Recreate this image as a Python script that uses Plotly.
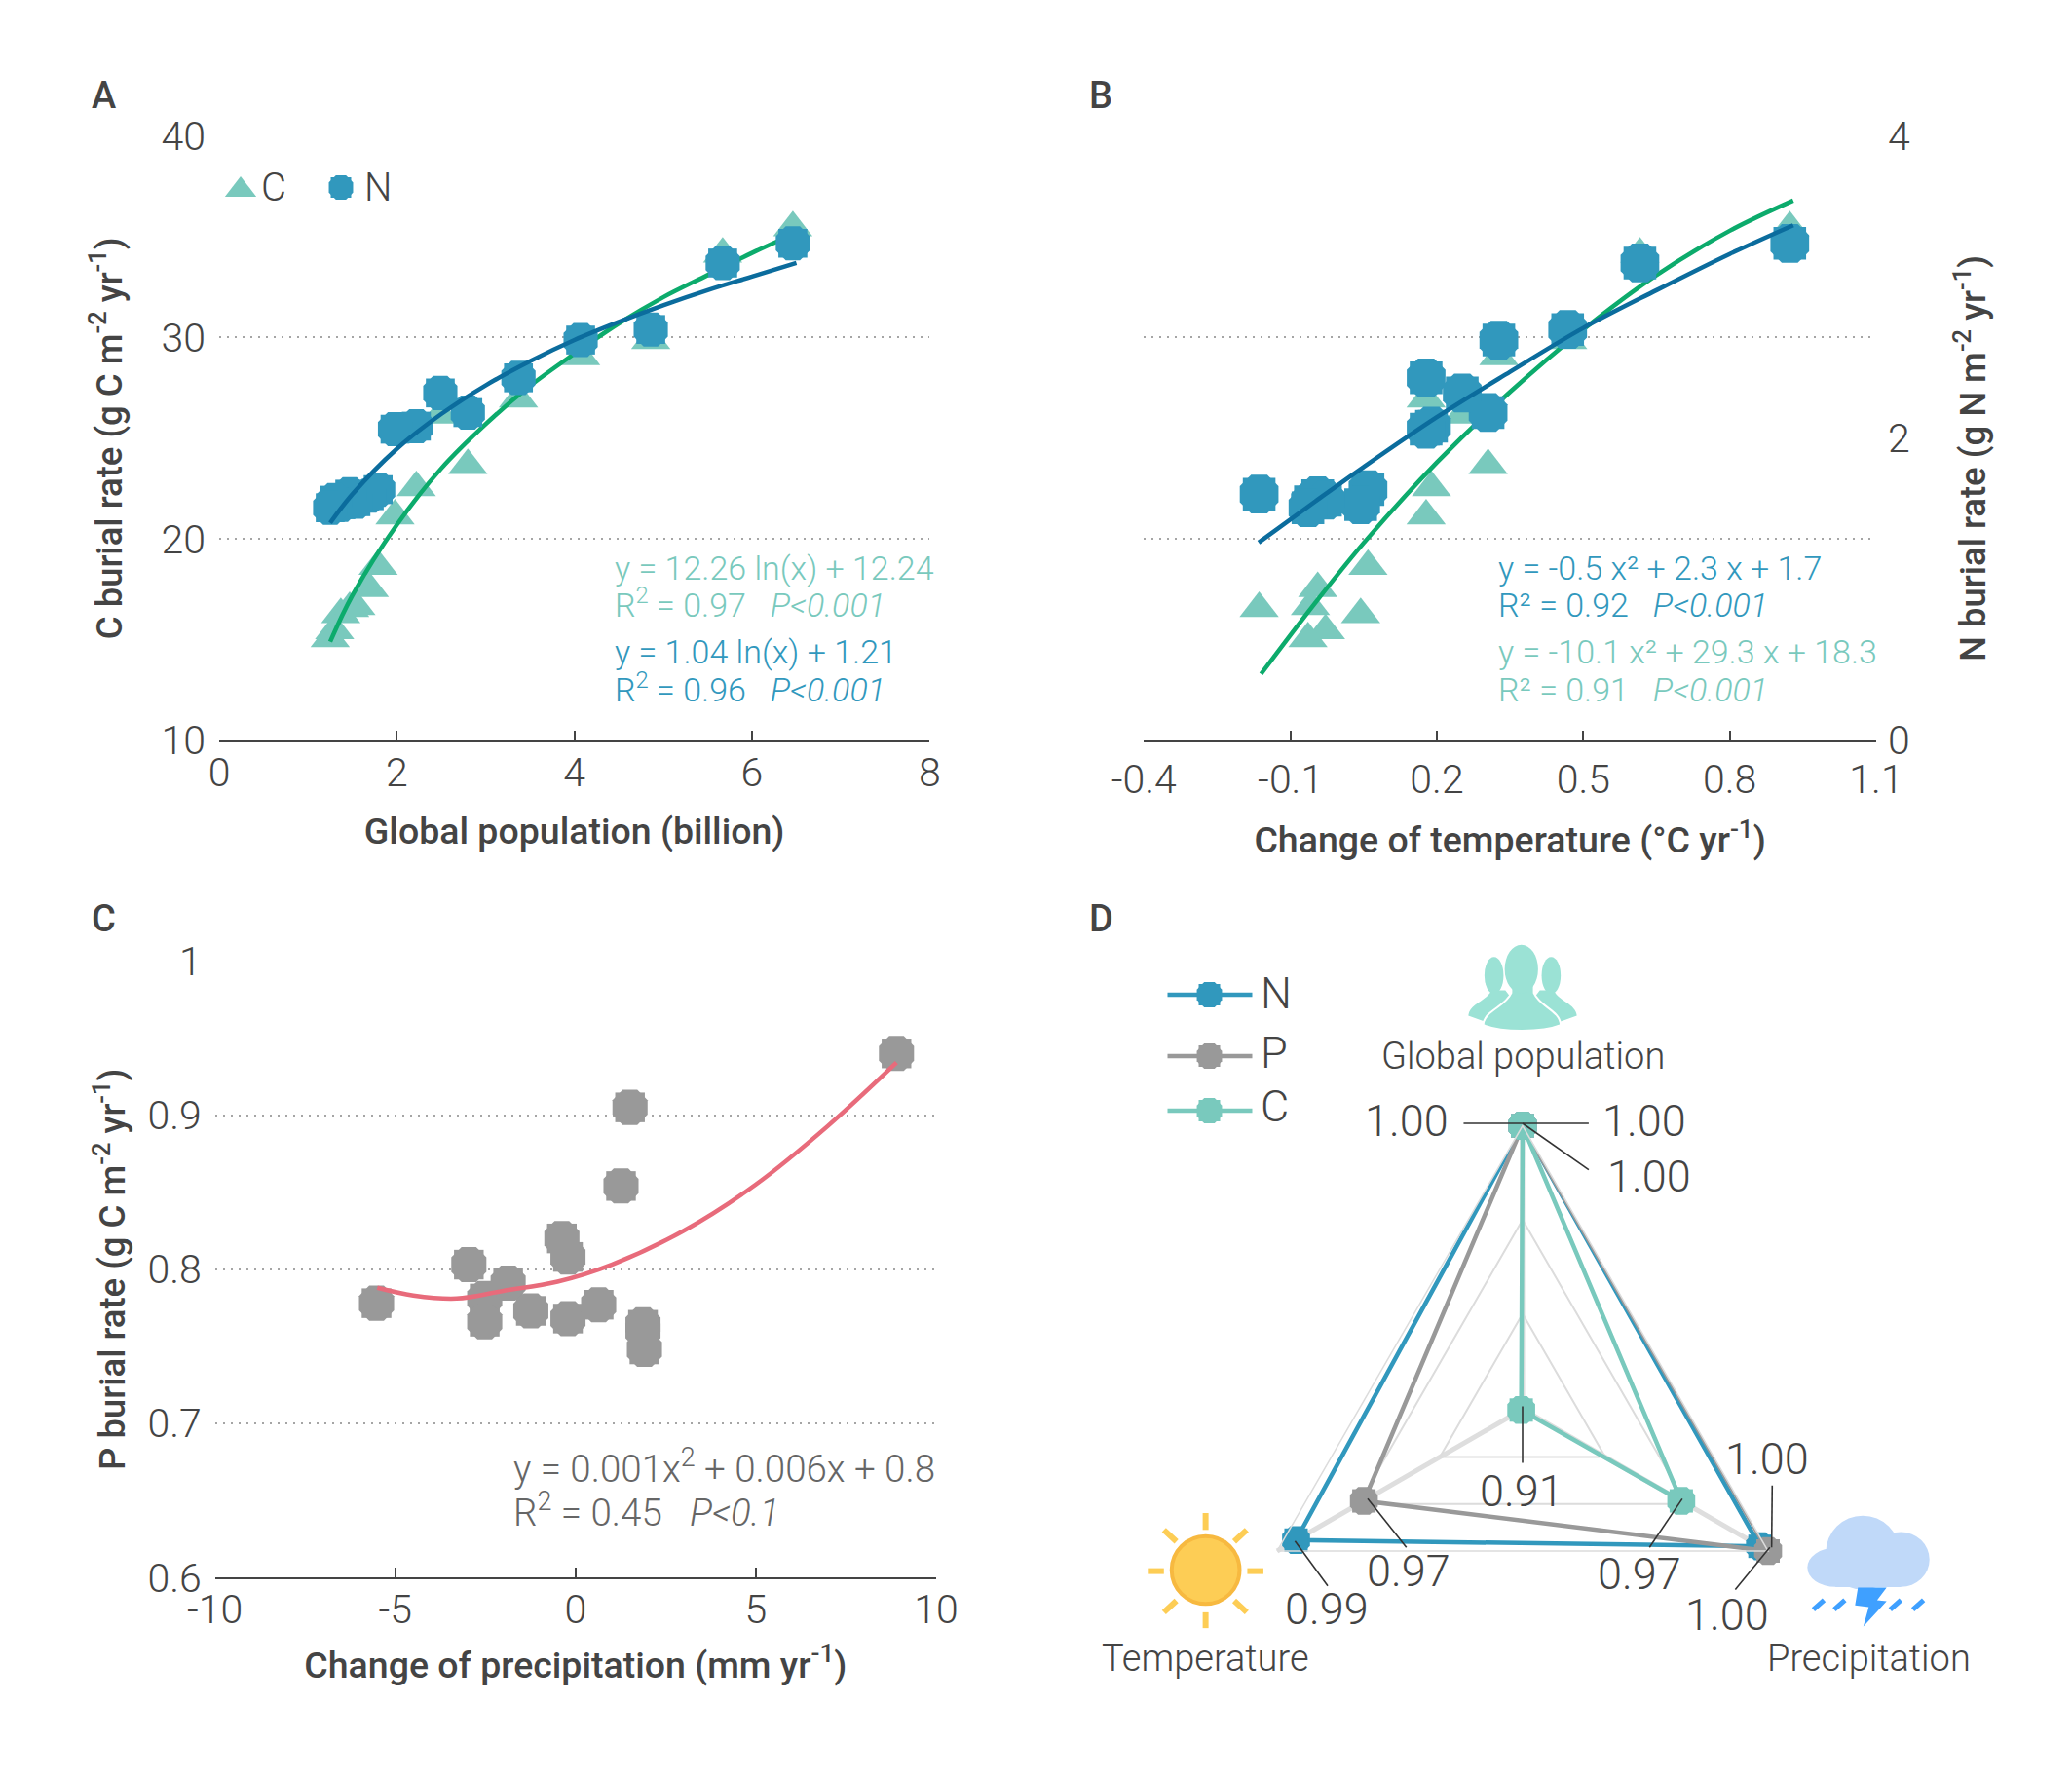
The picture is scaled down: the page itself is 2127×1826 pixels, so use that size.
import plotly.graph_objects as go

PAGE_W, PAGE_H = 2127, 1826
BODY = 8                      # the browser's default page margin
W, H = PAGE_W - BODY, PAGE_H - BODY

# ---- data ----
population = [6.46, 5.67, 4.86, 4.07, 3.37, 2.80, 2.49, 2.22, 1.98, 1.79, 1.69, 1.54, 1.47, 1.37, 1.30, 1.25]
temperature = [0.923, 0.616, 0.468, 0.327, 0.178, 0.305, 0.252, 0.189, 0.178, 0.059, -0.044, -0.059, -0.164, 0.044, -0.028, -0.064]
c_burial = [35.45, 34.15, 29.85, 29.05, 26.95, 23.65, 26.15, 22.55, 21.15, 18.65, 17.55, 16.65, 16.55, 16.25, 15.45, 15.05]
n_burial = [3.29, 3.16, 2.72, 2.65, 2.40, 2.17, 2.30, 2.08, 2.06, 1.66, 1.62, 1.58, 1.63, 1.56, 1.59, 1.54]

fit_pop_x = [1.25, 1.5, 2, 2.5, 3, 3.5, 4, 4.5, 5, 5.5, 6, 6.5]
fit_pop_c = [14.9, 17.2, 20.7, 23.5, 25.7, 27.6, 29.2, 30.7, 32.0, 33.1, 34.2, 35.2]
fit_pop_n = [1.44, 1.63, 1.93, 2.16, 2.35, 2.51, 2.65, 2.77, 2.88, 2.98, 3.07, 3.16]

fit_tmp_c_x = [-0.16, -0.05, 0.05, 0.2, 0.35, 0.5, 0.65, 0.8, 0.93]
fit_tmp_c = [13.3, 16.8, 19.8, 23.8, 27.3, 30.4, 33.1, 35.3, 36.8]
fit_tmp_n_x = [-0.165, -0.05, 0.05, 0.2, 0.35, 0.5, 0.65, 0.8, 0.93]
fit_tmp_n = [1.31, 1.58, 1.81, 2.14, 2.44, 2.73, 2.98, 3.22, 3.41]

precip = [-5.52, -2.96, -2.52, -2.52, -1.87, -1.24, -0.38, -0.21, -0.21, 0.64, 1.26, 1.51, 1.87, 1.87, 1.91, 8.9]
p_burial = [0.778, 0.803, 0.781, 0.766, 0.791, 0.773, 0.820, 0.808, 0.768, 0.777, 0.854, 0.905, 0.764, 0.760, 0.748, 0.940]
fit_pre_x = [-5.5, -4.5, -3.3, -2, -0.5, 1, 3, 5, 7, 8.9]
fit_pre_p = [0.788, 0.783, 0.781, 0.786, 0.792, 0.803, 0.825, 0.855, 0.893, 0.934]

radar_axes = ["Global population", "Temperature", "Precipitation", "Global population"]
radar_order = ["Global population", "Precipitation", "Temperature"]
radar_n = [1.00, 0.993, 0.997, 1.00]
radar_p = [1.00, 0.968, 1.00, 1.00]
radar_c = [1.00, 0.91, 0.968, 1.00]
radar_ticks = [0.94, 0.97, 1.00]

TEAL, BLUE, GRAY = "#79c9bd", "#3198bd", "#999999"
GREEN_FIT, BLUE_FIT, RED_FIT = "#0cab6c", "#0b6c9d", "#e86b7b"
INK, INK2 = "#444444", "#666666"
FONT = "Roboto"
TICK = 41
TITLE_X = 37.5
TITLE_Y = 36.5
DOT = "2px,6px"
GRID = "#a5a5a5"

def fx(a, b): return [(a - BODY) / W, (b - BODY) / W]
def fy(top, bottom): return [1 - (bottom - BODY) / H, 1 - (top - BODY) / H]

fig = go.Figure()

def triangles(x, y, xa, ya, name, size):
    fig.add_trace(go.Scatter(x=x, y=y, xaxis=xa, yaxis=ya, mode="markers", name=name, showlegend=False,
                             marker=dict(symbol="triangle-up", size=size, color=TEAL, line=dict(width=0))))

def rounded(x, y, xa, ya, name, size, col):
    # octagon plus a slightly smaller square reads as a rounded square
    for sym, s in [("square", size * 0.78), ("octagon", size)]:
        fig.add_trace(go.Scatter(x=x, y=y, xaxis=xa, yaxis=ya, mode="markers", name=name, showlegend=False,
                                 marker=dict(symbol=sym, size=s, color=col, line=dict(width=0))))

def curve(x, y, xa, ya, name, col):
    fig.add_trace(go.Scatter(x=x, y=y, xaxis=xa, yaxis=ya, mode="lines", name=name, showlegend=False,
                             line=dict(color=col, width=4.5, shape="spline", smoothing=1)))

# Panel A
triangles(population, c_burial, "x", "y", "C", 35)
rounded(population, n_burial, "x", "y2", "N", 38, BLUE)
curve(fit_pop_x, fit_pop_c, "x", "y", "C fit", GREEN_FIT)
curve(fit_pop_x, fit_pop_n, "x", "y2", "N fit", BLUE_FIT)
# Panel B
triangles(temperature, c_burial, "x2", "y3", "C", 35)
rounded(temperature, n_burial, "x2", "y4", "N", 43, BLUE)
curve(fit_tmp_c_x, fit_tmp_c, "x2", "y3", "C fit", GREEN_FIT)
curve(fit_tmp_n_x, fit_tmp_n, "x2", "y4", "N fit", BLUE_FIT)
# Panel C
rounded(precip, p_burial, "x3", "y5", "P", 39, GRAY)
curve(fit_pre_x, fit_pre_p, "x3", "y5", "P fit", RED_FIT)

# Panel D
for vals, col, nm in [(radar_n, BLUE, "N"), (radar_p, GRAY, "P"), (radar_c, TEAL, "C")]:
    fig.add_trace(go.Scatterpolar(r=vals, theta=radar_axes, mode="lines+markers", name=nm, showlegend=False,
                                  line=dict(color=col, width=4.5),
                                  marker=dict(symbol="octagon", size=31, color=col)))
    fig.add_trace(go.Scatterpolar(r=vals[:3], theta=radar_axes[:3], mode="markers", name=nm, showlegend=False,
                                  marker=dict(symbol="square", size=24, color=col)))

# key glyphs on a page-sized helper axis
def key(x, y, sym, size, col, name):
    fig.add_trace(go.Scatter(x=x, y=y, xaxis="x4", yaxis="y6", mode="markers",
                             name=name, showlegend=False, hoverinfo="skip",
                             marker=dict(symbol=sym, size=size, color=col)))

key([247], [195], "triangle-up", 28, TEAL, "key C")
key([350], [192.5], "octagon", 27, BLUE, "key N")
key([350], [192.5], "square", 21, BLUE, "key N")
for yy, col, nm in [(1021, BLUE, "key N"), (1084, GRAY, "key P"), (1140, TEAL, "key C")]:
    fig.add_trace(go.Scatter(x=[1198.5, 1285.5], y=[yy, yy], xaxis="x4", yaxis="y6", mode="lines", showlegend=False,
                             name=nm, hoverinfo="skip", line=dict(color=col, width=4.5)))
    key([1241.5], [yy], "octagon", 28, col, nm)
    key([1241.5], [yy], "square", 22, col, nm)

# ---- axes ----
def xaxis(dom, anchor, rng, tickvals, ticktext, title, label_off, title_so):
    return dict(domain=dom, anchor=anchor, range=rng, tickmode="array", tickvals=tickvals, ticktext=ticktext,
                ticks="inside", ticklen=10, tickwidth=2, tickcolor=INK, showline=True, linecolor=INK, linewidth=2,
                showgrid=False, zeroline=False, ticklabelstandoff=label_off, automargin=False,
                tickfont=dict(family=FONT, size=TICK, color=INK, weight=300),
                title=dict(text=title, standoff=title_so, font=dict(family=FONT, size=TITLE_X, color=INK, weight=500)))

def yaxis(dom, anchor, rng, tickvals, ticktext, title, title_so):
    return dict(domain=dom, anchor=anchor, range=rng, tickmode="array", tickvals=tickvals, ticktext=ticktext,
                ticks="", showline=False, showgrid=True, gridcolor=GRID, gridwidth=2, griddash=DOT,
                zeroline=False, ticklabelstandoff=13, automargin=False,
                tickfont=dict(family=FONT, size=TICK, color=INK, weight=300),
                title=dict(text=title, standoff=title_so, font=dict(family=FONT, size=TITLE_Y, color=INK, weight=500)))

AT, AB = 139.7, 760
layout = dict(
    width=W, height=H, paper_bgcolor="white", plot_bgcolor="rgba(0,0,0,0)",
    margin=dict(l=0, r=0, t=0, b=0, autoexpand=False), autosize=False, font=dict(family=FONT, color=INK),
    xaxis=xaxis(fx(225, 954.3), "y", [0, 8], [0, 2, 4, 6, 8], ["0", "2", "4", "6", "8"],
                "Global population (billion)", -4, 24),
    xaxis2=xaxis(fx(1174.3, 1926), "y3", [-0.4, 1.1], [-0.4, -0.1, 0.2, 0.5, 0.8, 1.1],
                 ["-0.4", "-0.1", "0.2", "0.5", "0.8", "1.1"],
                 "Change of temperature (°C yr<sup>-1</sup>)", 3, 26),
    xaxis3=xaxis(fx(220.7, 961), "y5", [-10, 10], [-10, -5, 0, 5, 10], ["-10", "-5", "0", "5", "10"],
                 "Change of precipitation (mm yr<sup>-1</sup>)", -5, 21),
    yaxis=yaxis(fy(AT, AB), "x", [10, 40], [10, 20, 30, 40], ["10", "20", "30", "40"],
                "C burial rate (g C m<sup>-2</sup> yr<sup>-1</sup>)", 28.5),
    yaxis2=dict(domain=fy(AT, AB), range=[0, 4], overlaying="y", anchor="x", visible=False),
    yaxis3=dict(domain=fy(AT, AB), anchor="x2", range=[10, 40], tickmode="array", tickvals=[20, 30, 40],
                showticklabels=False, ticks="", showline=False, showgrid=True, gridcolor=GRID, gridwidth=2,
                griddash=DOT, zeroline=False),
    yaxis4=dict(domain=fy(AT, AB), range=[0, 4], overlaying="y3", anchor="x2", side="right",
                tickmode="array", tickvals=[0, 2, 4], ticktext=["0", "2", "4"], showgrid=False, zeroline=False,
                showline=False, ticks="", ticklabelstandoff=11, automargin=False,
                tickfont=dict(family=FONT, size=TICK, color=INK, weight=300)),
    yaxis5=yaxis(fy(986.3, 1619.3), "x3", [0.6, 1.0], [0.6, 0.7, 0.8, 0.9, 1.0], ["0.6", "0.7", "0.8", "0.9", "1"],
                 "P burial rate (g C m<sup>-2</sup> yr<sup>-1</sup>)", 11),
    xaxis4=dict(domain=[0, 1], range=[BODY, PAGE_W], visible=False, anchor="y6"),
    yaxis6=dict(domain=[0, 1], range=[PAGE_H, BODY], visible=False, anchor="x4"),
    polar=dict(
        domain=dict(x=fx(1563 - 291, 1563 + 291), y=fy(1446.5 - 291, 1446.5 + 291)),
        bgcolor="rgba(0,0,0,0)", gridshape="linear",
        radialaxis=dict(range=[0.9095, 1.0], tickmode="array", tickvals=radar_ticks, showticklabels=False, ticks="",
                        showline=False, gridcolor="#dcdcdc", gridwidth=1.5, angle=90),
        angularaxis=dict(type="category", categoryorder="array", categoryarray=radar_order, rotation=90,
                         direction="clockwise", showticklabels=False, ticks="", showline=True,
                         linecolor="#dcdcdc", linewidth=1.5, gridcolor="#dedede", gridwidth=5),
    ),
)

# ---- annotations ----
ann = []
def T(x, y, text, size=30, color=INK, anchor="left", weight=300, angle=0):
    ann.append(dict(x=x, y=y, xref="x4", yref="y6", text=text, showarrow=False, xanchor=anchor, yanchor="middle",
                    textangle=angle, font=dict(family=FONT, size=size, color=color, weight=weight)))

for x, y, s in [(106, 98, "A"), (1130, 98, "B"), (106, 943, "C"), (1130, 943, "D")]:
    T(x, y, s, 38, INK, "center", 500)

T(265.5, 192, "C", 40)
T(372, 192, "N", 40)

T(629, 583, "y = 12.26 ln(x) + 12.24", 34, TEAL)
T(629, 619, "R<sup>2</sup> = 0.97   <i>P&lt;0.001</i>", 34, TEAL)
T(629, 669, "y = 1.04 ln(x) + 1.21", 34, BLUE)
T(629, 706, "R<sup>2</sup> = 0.96   <i>P&lt;0.001</i>", 34, BLUE)

T(1536, 583, "y = -0.5 x² + 2.3 x + 1.7", 34, BLUE)
T(1536, 621, "R² = 0.92   <i>P&lt;0.001</i>", 34, BLUE)
T(1536, 669, "y = -10.1 x² + 29.3 x + 18.3", 34, TEAL)
T(1536, 708, "R² = 0.91   <i>P&lt;0.001</i>", 34, TEAL)

T(524.5, 1505, "y = 0.001x<sup>2</sup> + 0.006x + 0.8", 38.5, INK2)
T(524.5, 1550, "R<sup>2</sup> = 0.45   <i>P&lt;0.1</i>", 38.5, INK2)

T(2023, 471, "N burial rate (g N m<sup>-2</sup> yr<sup>-1</sup>)", TITLE_Y, INK, "center", 500, -90)

def X(z): return 1100 + z / 1.635
def Y(z): return 908 + z / 1.845

T(X(757), Y(325), "Global population", 38, INK, "center")
T(X(225), Y(1465), "Temperature", 38, INK, "center")
T(X(1338), Y(1465), "Precipitation", 38, INK, "center")
for txt, yy in [("N", 205), ("P", 318), ("C", 420)]:
    T(X(314), Y(yy), txt, 45)
for (zx, zy) in [(563, 447), (962, 447), (970, 552), (1168, 1088), (1100, 1382)]:
    T(X(zx), Y(zy), "1.00", 45, INK, "center")
for (zx, zy, s) in [(755, 1148, "0.91"), (566, 1300, "0.97"), (953, 1306, "0.97"), (428, 1372, "0.99")]:
    T(X(zx), Y(zy), s, 45, INK, "center")
layout["annotations"] = ann

# ---- shapes: leader lines and icons on the helper axis ----
sh = []
def seg(a, b, c, d, color="#333333", width=1.6):
    sh.append(dict(type="line", xref="x4", yref="y6", x0=X(a), y0=Y(b), x1=X(c), y1=Y(d),
                   line=dict(color=color, width=width), layer="above"))
def ell(cx, cy, rx, ry, fill, lc=None, lw=0):
    sh.append(dict(type="circle", xref="x4", yref="y6", x0=X(cx - rx), x1=X(cx + rx), y0=Y(cy - ry), y1=Y(cy + ry),
                   fillcolor=fill, line=dict(color=lc or fill, width=lw), layer="above"))
def path(pts, fill, lc=None, lw=0):
    d = []
    for p in pts:
        if isinstance(p, str):
            d.append(p)
        else:
            d.append(f"{X(p[0]):.1f},{Y(p[1]):.1f}")
    sh.append(dict(type="path", xref="x4", yref="y6", path=" ".join(d), fillcolor=fill,
                   line=dict(color=lc or fill, width=lw), layer="above"))

for a, b, c, d in [(658, 452, 868, 452), (757, 452, 868, 540), (757, 988, 757, 1095), (497, 1163, 562, 1255),
                   (375, 1243, 430, 1328), (1025, 1163, 970, 1255), (1175, 1255, 1176, 1138), (1172, 1255, 1114, 1335)]:
    seg(a, b, c, d)

# sun
SUN = "#fdcd55"
for a, b, c, d in [(225, 1190, 225, 1222), (225, 1378, 225, 1408), (128, 1300, 155, 1300), (295, 1300, 322, 1300),
                   (155, 1222, 176, 1244), (294, 1222, 273, 1244), (155, 1378, 176, 1356), (294, 1378, 273, 1356)]:
    seg(a, b, c, d, SUN, 6)
ell(225, 1298, 57, 64, SUN, "#f7b940", 4)

# cloud, bolt, rain
CLOUD = "#c0d9f9"
ell(1328, 1265, 62, 70, CLOUD)
ell(1282, 1293, 47, 37, CLOUD)
ell(1392, 1278, 48, 52, CLOUD)
path(["M", (1282, 1270), "L", (1392, 1270), "L", (1392, 1330), "L", (1282, 1330), "Z"], CLOUD)
RAIN = "#3fa0ff"
path(["M", (1320, 1331), "L", (1368, 1331), "L", (1352, 1355), "L", (1368, 1357), "L", (1329, 1405),
      "L", (1338, 1368), "L", (1315, 1365), "Z"], RAIN)
for a in [1243, 1278, 1372, 1410]:
    seg(a + 2, 1373, a + 20, 1355, RAIN, 5)

# people
PEOPLE = "#9be2d5"
ell(709, 172, 16, 35, PEOPLE)
ell(805, 172, 16, 35, PEOPLE)
path(["M", (666, 248), "C", (668, 225), (695, 222), (705, 200), "L", (728, 200), "L", (745, 225), "L", (700, 262), "Z"], PEOPLE)
path(["M", (848, 248), "C", (846, 225), (819, 222), (809, 200), "L", (786, 200), "L", (769, 225), "L", (814, 262), "Z"], PEOPLE)
path(["M", (691, 266), "C", (692, 238), (728, 232), (738, 205), "L", (738, 190), "L", (776, 190), "L", (776, 205),
      "C", (786, 232), (820, 238), (821, 266), "C", (790, 280), (722, 280), (691, 266), "Z"], PEOPLE, "white", 2)
ell(755, 160, 28, 46, PEOPLE)
layout["shapes"] = sh

fig.update_layout(**layout)
fig.write_html("out.html")
